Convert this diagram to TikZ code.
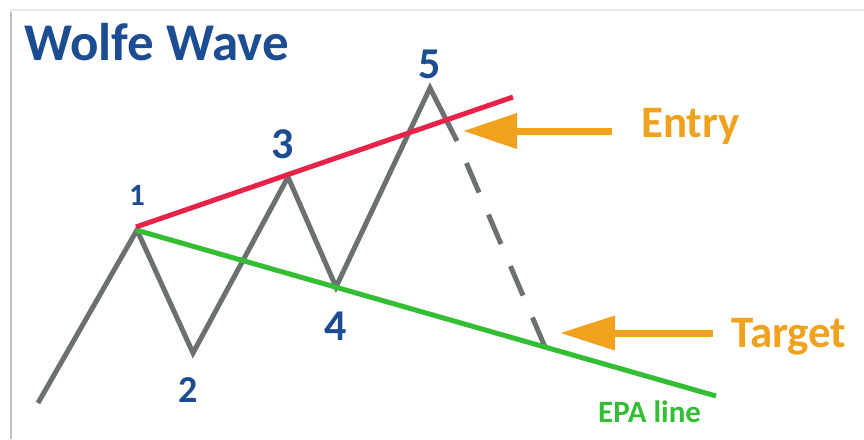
\documentclass[tikz,border=0pt]{standalone}
\usepackage{fontspec}
\setmainfont{Carlito}
\usetikzlibrary{arrows.meta}
\definecolor{titleblue}{HTML}{1C4C92}
\definecolor{wavegray}{HTML}{6B7171}
\definecolor{lred}{HTML}{E8234A}
\definecolor{lgreen}{HTML}{34BE34}
\definecolor{lorange}{HTML}{F0A21E}
\tikzset{
  wave/.style={draw=wavegray, line width=5pt},
  redl/.style={draw=lred, line width=5pt},
  greenl/.style={draw=lgreen, line width=5pt},
  callout/.style={draw=lorange, line width=7pt},
  numlbl/.style={text=titleblue, font=\bfseries, inner sep=0pt},
  txt/.style={inner sep=0pt, anchor=base west}
}
\begin{document}
\begin{tikzpicture}[x=1pt,y=-1pt]
\useasboundingbox (0,0) rectangle (864,439);
\fill[white] (0,0) rectangle (864,439);
% frame shadow
\draw[color=black!8, line width=2pt] (11,439) -- (11,10) -- (864,10);
\draw[color=black!25, line width=2pt] (11,439) -- (11,12);
% title
\node[txt, text=titleblue, font=\fontsize{53}{53}\selectfont\bfseries] (title) at (24,60) {Wolfe Wave};
% wave points
\coordinate (s) at (38,403);
\coordinate (p1) at (137,230);
\coordinate (p2) at (193,353);
\coordinate (p3) at (288,177);
\coordinate (p4) at (336,287);
\coordinate (p5) at (430,88);
\coordinate (d0) at (457,141);
\coordinate (d1) at (545,347);
% lines
\draw[wave] (s) -- (p1) -- (p2) -- (p3) -- (p4) -- (p5) -- (d0);
\draw[wave, dash pattern=on 32pt off 24pt, dash phase=32pt] (d0) -- (d1);
\coordinate (g0) at (136,230);
\coordinate (g1) at (716,396);
\coordinate (r0) at (136,227);
\coordinate (r1) at (513,97);
\draw[greenl] (g0) -- (g1);
\draw[redl] (r0) -- (r1);
% labels
\node[numlbl, font=\fontsize{31}{31}\selectfont\bfseries] (n1) at (137,195) {1};
\node[numlbl, font=\fontsize{38}{38}\selectfont\bfseries] (n2) at (188,390) {2};
\node[numlbl, font=\fontsize{44}{44}\selectfont\bfseries] (n3) at (283,144) {3};
\node[numlbl, font=\fontsize{44}{44}\selectfont\bfseries] (n4) at (336,326) {4};
\node[numlbl, font=\fontsize{44}{44}\selectfont\bfseries] (n5) at (430,64) {5};
% arrows
\coordinate (ea) at (612,131);
\coordinate (eb) at (463,131);
\coordinate (ta) at (713,333);
\coordinate (tb) at (560,333);
\draw[callout, -{Triangle[length=54pt,width=34pt]}] (ea) -- (eb);
\draw[callout, -{Triangle[length=55pt,width=33pt]}] (ta) -- (tb);
\node[txt, text=lorange, font=\fontsize{45}{45}\selectfont\bfseries] (entry) at (641,137) {Entry};
\node[txt, text=lorange, font=\fontsize{45}{45}\selectfont\bfseries] (target) at (731,347) {Target};
\node[txt, text=lgreen, font=\fontsize{31}{31}\selectfont\bfseries] (epa) at (598,422) {EPA line};
\end{tikzpicture}
\end{document}
